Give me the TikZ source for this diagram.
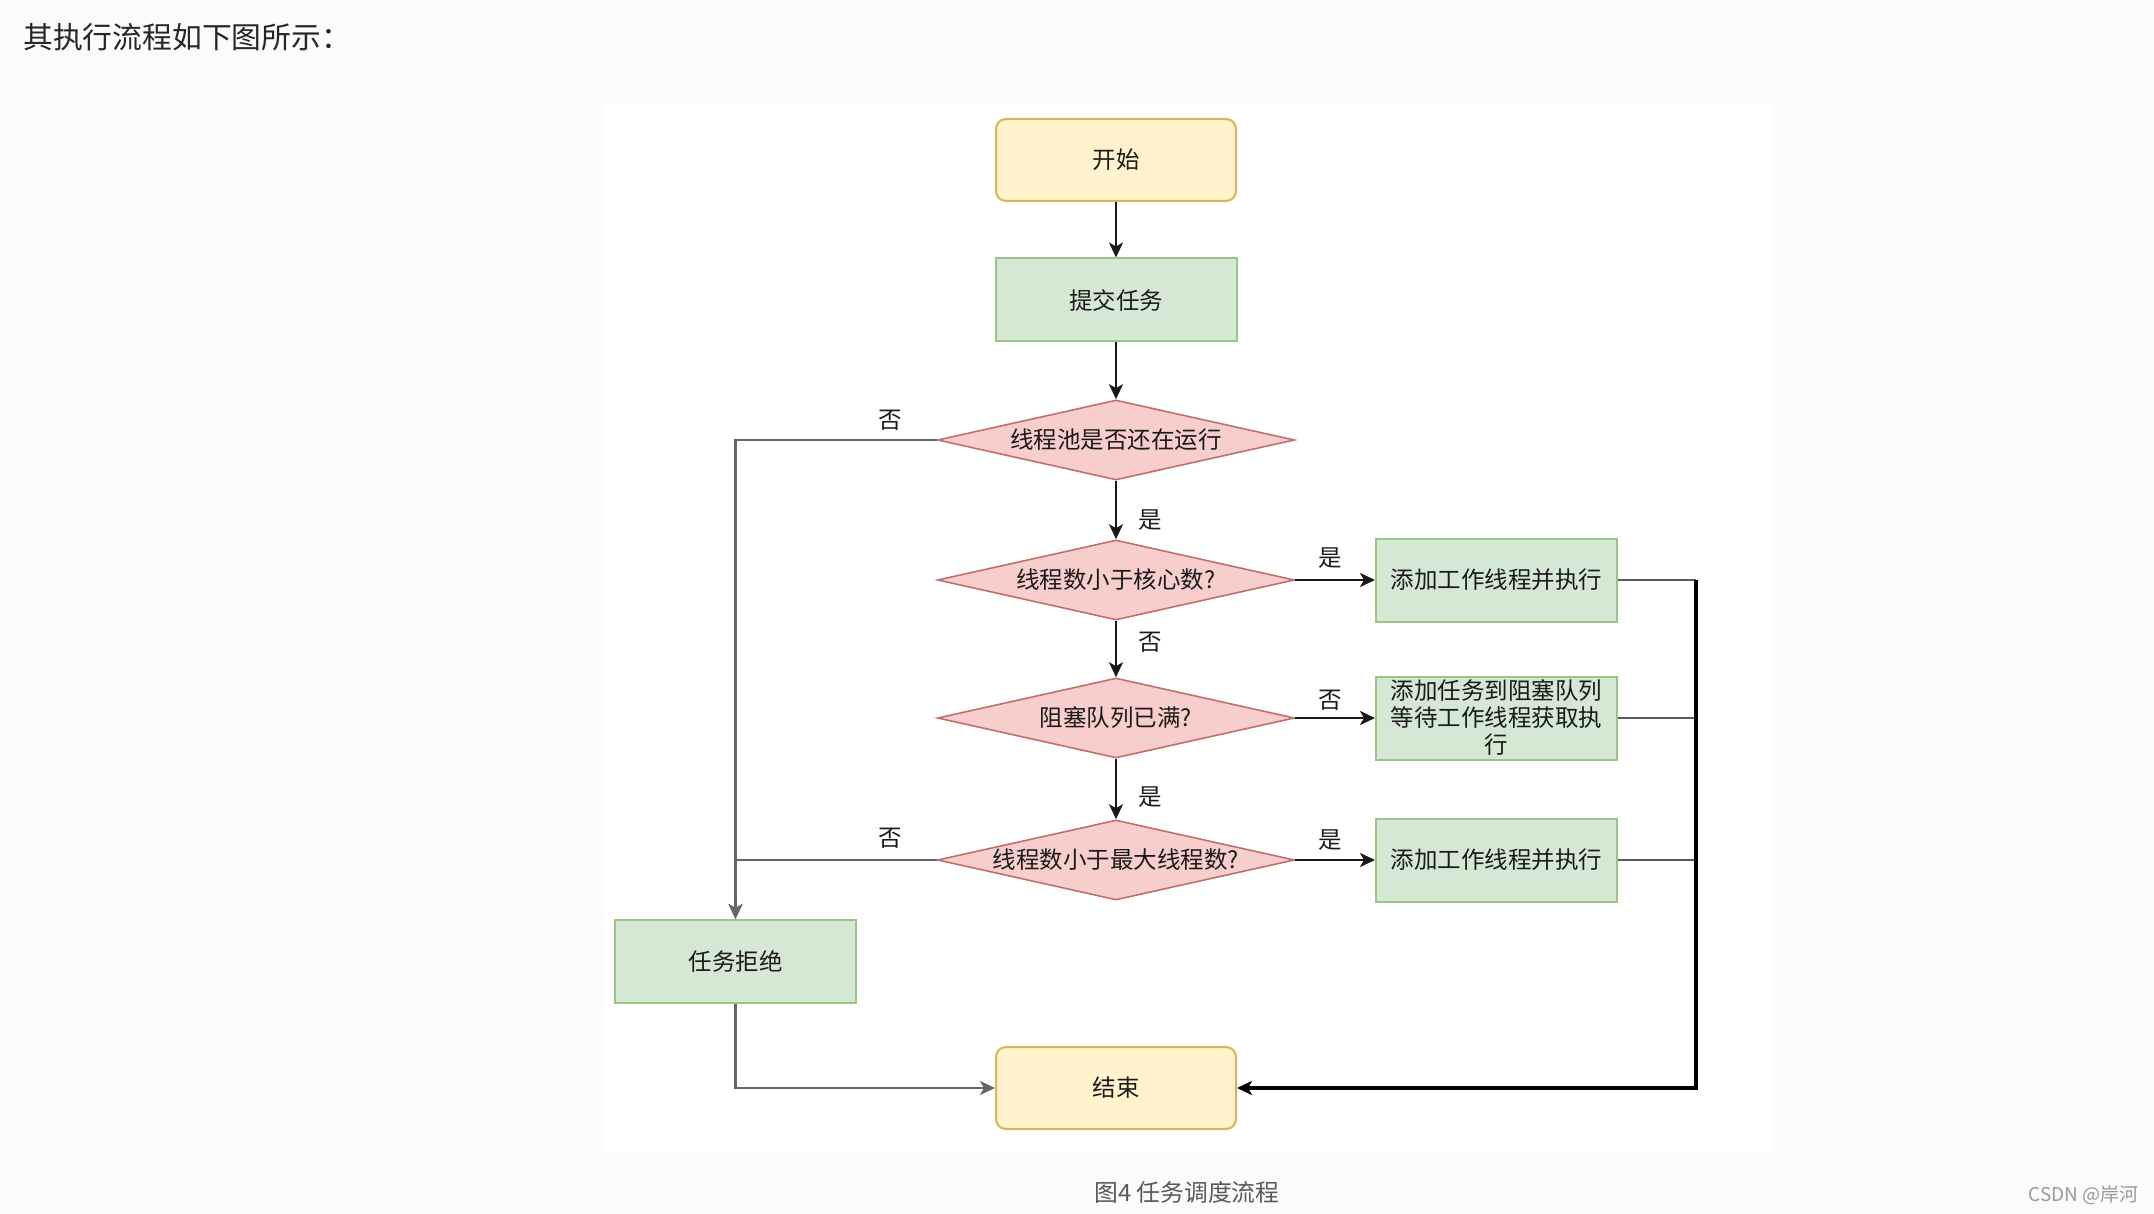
\documentclass[tikz,border=0pt]{standalone}
\usepackage{fontspec}
\setmainfont{Noto Sans CJK SC}
\usetikzlibrary{shapes.geometric,arrows.meta}
\definecolor{termfill}{HTML}{FFF2CC}
\definecolor{termdraw}{HTML}{D6B656}
\definecolor{procfill}{HTML}{D5E8D4}
\definecolor{procdraw}{HTML}{9AC587}
\definecolor{decfill}{HTML}{F8CECC}
\definecolor{decdraw}{HTML}{C0706C}
\definecolor{pagebg}{HTML}{FBFBFB}
\definecolor{txt}{HTML}{1A1A1A}
\newcommand\dtext{\fontsize{11.75}{13.5}\selectfont}
\begin{document}
\begin{tikzpicture}[x=0.5pt,y=-0.5pt,
  every node/.style={text=txt},
  term/.style={draw=termdraw, fill=termfill, rounded corners=5pt, minimum width=120pt, minimum height=41pt, line width=1pt, font=\dtext},
  proc/.style={draw=procdraw, fill=procfill, minimum width=120.5pt, minimum height=41.5pt, line width=1pt, inner sep=1pt, align=center, font=\dtext},
  dec/.style={diamond, draw=decdraw, fill=decfill, aspect=4.46, minimum width=178.5pt, minimum height=40pt, inner sep=0pt, line width=0.8pt, font=\dtext},
  lbl/.style={font=\dtext, inner sep=0pt},
  tip/.style={-{Stealth[length=7.5pt,width=7pt,inset=2pt]}},
  arr/.style={draw=black!90, line width=1.1pt, tip},
  arrg/.style={draw=black!60, line width=1.1pt, tip},
  retline/.style={draw=black!65, line width=1.2pt},
  ret/.style={draw=black, line width=1.6pt, tip}
]
\useasboundingbox (0,0) rectangle (2154,1214);
\fill[pagebg] (0,0) rectangle (2154,1214);
\fill[white] (603,103) rectangle (1772,1153);

\node[anchor=west, font=\fontsize{14.9}{17}\selectfont, text=black!85, inner sep=0pt] (title) at (23,37) {其执行流程如下图所示：};

\node[term] (start) at (1116,160) {开始};
\node[proc] (submit) at (1116,300) {提交任务};
\node[dec] (d1) at (1116,440) {线程池是否还在运行};
\node[dec] (d2) at (1116,580) {线程数小于核心数?};
\node[dec] (d3) at (1116,718) {阻塞队列已满?};
\node[dec] (d4) at (1116,860) {线程数小于最大线程数?};
\node[proc] (pa) at (1496.5,580) {添加工作线程并执行};
\node[proc] (pb) at (1496.5,718) {添加任务到阻塞队列\\等待工作线程获取执\\行};
\node[proc] (pc) at (1496.5,860) {添加工作线程并执行};
\node[proc] (reject) at (735.5,961.5) {任务拒绝};
\node[term] (end) at (1116,1088) {结束};

\coordinate (rx) at (1696,580);

\draw[arr] (start) -- (submit);
\draw[arr] (submit) -- (d1);
\draw[arr] (d1) -- (d2);
\draw[arr] (d2) -- (d3);
\draw[arr] (d3) -- (d4);
\draw[arr] (d2) -- (pa);
\draw[arr] (d3) -- (pb);
\draw[arr] (d4) -- (pc);
\draw[arrg] (d1.west) -| (reject.north);
\draw[arrg] (d4.west) -| (reject.north);
\draw[arrg] (reject.south) |- (end.west);
\draw[retline] (pa.east) -- (pa.east -| rx);
\draw[retline] (pb.east) -- (pb.east -| rx);
\draw[retline] (pc.east) -- (pc.east -| rx);
\draw[ret] (rx) |- (end.east);

\node[lbl] (l1) at (890,420) {否};
\node[lbl] (l2) at (1150,520) {是};
\node[lbl] (l3) at (1330,558) {是};
\node[lbl] (l4) at (1150,642) {否};
\node[lbl] (l5) at (1330,700) {否};
\node[lbl] (l6) at (1150,797) {是};
\node[lbl] (l7) at (890,838) {否};
\node[lbl] (l8) at (1330,840) {是};

\node[font=\fontsize{11.9}{14}\selectfont, text=black!65, inner sep=0pt] (caption) at (1187,1192) {图4 任务调度流程};
\node[anchor=east, font=\fontsize{9.5}{11}\selectfont, text=black!40, inner sep=0pt] (csdn) at (2139,1195) {CSDN @岸河};
\end{tikzpicture}
\end{document}
